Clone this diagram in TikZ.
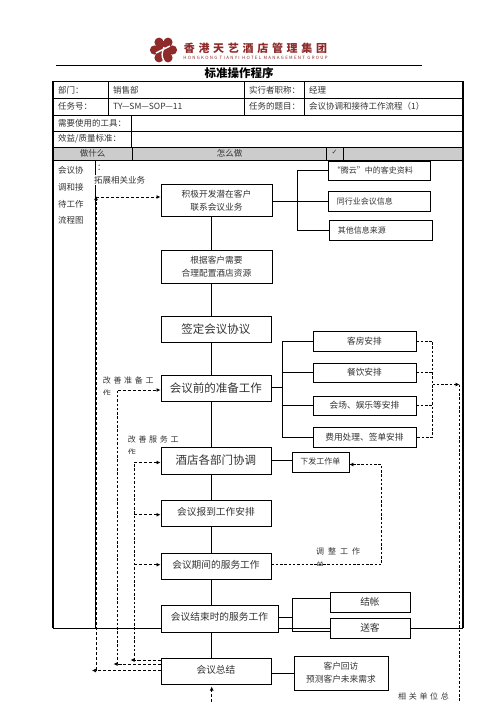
\documentclass[tikz,border=0pt]{standalone}
\usepackage{fontspec}
\setmainfont{Noto Sans CJK SC}
\usetikzlibrary{arrows.meta}
\definecolor{logored}{HTML}{8E2A2A}
\definecolor{txt}{HTML}{333333}
\tikzset{
  x=1pt,y=-1pt,
  boxn/.style={draw=black,line width=0.9pt,fill=white,inner sep=0pt,text=txt,align=center},
  fbig/.style={font=\fontsize{11.5}{14}\selectfont},
  fmid/.style={font=\fontsize{9.7}{14}\selectfont},
  fsm/.style={font=\fontsize{8.7}{13}\selectfont},
  fside/.style={font=\fontsize{8.7}{10}\selectfont},
  ln/.style={draw=black,line width=0.8pt},
  dashln/.style={draw=black,line width=0.7pt,dash pattern=on 2.5pt off 1.8pt},
  bolddash/.style={draw=black,line width=1pt,dash pattern=on 3pt off 2pt},
  tip/.style={-{Latex[length=4pt,width=4pt]}},
  cell/.style={anchor=west,text=txt,inner sep=0pt,font=\fontsize{8.5}{10}\selectfont},
  lab/.style={anchor=west,text=txt,inner sep=0pt,font=\fontsize{8}{10}\selectfont},
  hd/.style={inner sep=0pt,text=txt,font=\fontsize{8.5}{10}\selectfont},
}
\newcommand{\off}[3]{\hspace*{#1pt}\raisebox{#2pt}{#3}}
\newcommand{\bx}[7]{\node[boxn,#6,minimum width=#3pt-#1pt,minimum height=#4pt-#2pt,anchor=north west] (#5) at (#1,#2) {#7};}
\newcommand{\lk}{\hspace{3.7pt}}
\begin{document}
\begin{tikzpicture}
\useasboundingbox (0,0) rectangle (496,702);
% logo
\fill[logored] (163.5,50) circle (9pt);
\foreach \a in {0,60,...,300}{\fill[logored] (163.5,50)++(\a:9pt) circle (4.6pt);}
\draw[white,line width=1.4pt] (156,53) -- (170,46);
\draw[white,line width=1.4pt] (164,47) .. controls (162,53) and (161,56) .. (164,61);
\node[inner sep=0pt,text=logored,font=\bfseries\fontsize{11}{12}\selectfont] (logotext) at (255.5,48) {香\lk 港\lk 天\lk 艺\lk 酒\lk 店\lk 管\lk 理\lk 集\lk 团};
\node[inner sep=0pt,text=logored,font=\fontsize{4.4}{5}\selectfont\addfontfeature{LetterSpace=30}] (logosub) at (255.5,57.5) {HONGKONG TIANYI HOTEL MANAGEMENT GROUP};
\coordinate (ruleL) at (56,65);
\coordinate (ruleR) at (422,65);
\draw[ln] (ruleL) -- (ruleR);
\node[inner sep=0pt,font=\bfseries\fontsize{11.5}{12}\selectfont] (title) at (239,73) {标准操作程序};
% table
\fill[black!20] (53,147) rectangle (463,160.5);
\draw[ln] (53,98.5) -- (463,98.5) (53,115.5) -- (463,115.5) (53,131.5) -- (463,131.5) (53,147) -- (463,147) (53,160.5) -- (463,160.5);
\draw[ln] (108.5,81.5) -- (108.5,115.5) (244.5,81.5) -- (244.5,115.5) (304.5,81.5) -- (304.5,115.5);
\draw[ln] (131.5,115.5) -- (131.5,147) (132.5,147) -- (132.5,160.5) (326.5,147) -- (326.5,160.5) (343,147) -- (343,160.5);
\draw[ln] (95.5,160.5) -- (95.5,628);
\draw[ln] (53,628) -- (463,628);
\draw[draw=black,line width=1.4pt] (53,628) -- (53,81.5) -- (463,81.5) -- (463,628);
\node[cell] (c1) at (58,90) {部门：};
\node[cell] (c2) at (113,90) {销售部};
\node[cell] (c3) at (249,90) {实行者职称：};
\node[cell] (c4) at (309,90) {经理};
\node[cell] (c5) at (58,106.5) {任务号：};
\node[cell] (c6) at (113,106.5) {TY—SM—SOP—11};
\node[cell] (c7) at (249,106.5) {任务的题目：};
\node[cell] (c8) at (309,106.5) {会议协调和接待工作流程（1）};
\node[cell] (c9) at (58,123) {需要使用的工具：};
\node[cell] (c10) at (58,139) {效益/质量标准：};
\node[hd] (h1) at (92.5,153) {做什么};
\node[hd] (h2) at (229.5,153) {怎么做};
\node[hd,font={\fontspec{DejaVu Sans}\fontsize{7}{8}\selectfont}] (h3) at (334.5,152) {✓};
\node[cell] (w1) at (58,170) {会议协};
\node[cell] (w2) at (58,187) {调和接};
\node[cell] (w3) at (58,204) {待工作};
\node[cell] (w4) at (58,220) {流程图};
\node[cell] (colon) at (97,168) {：};
\node[cell,fill=white,inner ysep=1pt] (tuozhan) at (94,180) {拓展相关业务};
% main boxes
\bx{160.5}{183.5}{271.5}{216}{b1}{fsm}{积极开发潜在客户\\联系会议业务}
\bx{160.5}{249.5}{271.5}{282.5}{b2}{fsm}{根据客户需要\\合理配置酒店资源}
\bx{160.5}{315.5}{270.5}{341.5}{b3}{fbig}{\off{0}{-2}{签定会议协议}}
\bx{160.5}{374.5}{270.5}{400.5}{b4}{fbig}{\off{0}{-3}{会议前的准备工作}}
\bx{160.5}{446.5}{270.5}{473.5}{b5}{fbig}{\off{0}{-2}{酒店各部门协调}}
\bx{160.5}{499.5}{270.5}{525.5}{b6}{fmid}{\off{0}{4}{会议报到工作安排}}
\bx{160.5}{552.5}{270.5}{578.5}{b7}{fmid}{\off{0}{4}{会议期间的服务工作}}
\bx{160.5}{604.5}{277.5}{631.5}{b8}{fmid}{\off{0}{4}{会议结束时的服务工作}}
\bx{160.5}{657.5}{270.5}{683.5}{b9}{fmid}{\off{0}{4}{会议总结}}
\coordinate (trunk) at (211.7,0);
\foreach \p/\q in {b1/b2,b2/b3,b3/b4,b4/b5,b5/b6,b6/b7,b7/b8,b8/b9}
  \draw[ln] (\p.south -| trunk) -- (\q.north -| trunk);
% top right
\bx{327.5}{160.5}{429.5}{179.5}{t1}{lab,anchor=north west}{\off{-12}{0}{“腾云”中的客史资料}}
\bx{327.5}{190.5}{429.5}{210.5}{t2}{lab,anchor=north west}{\off{-28}{0}{同行业会议信息}}
\bx{328.5}{219.5}{431.5}{239.5}{t3}{lab,anchor=north west}{\off{-37}{0}{其他信息来源}}
\coordinate (tbus) at (297.5,0);
\draw[ln] (b1.east |- t2.west) -- (t2.west);
\draw[ln] (t1.west) -- (t1.west -| tbus) -- (t3.west -| tbus) -- (t3.west);
% mid right
\bx{312.5}{330.5}{415.5}{350.5}{r1}{fside}{\off{0}{1}{客房安排}}
\bx{312.5}{362.5}{415.5}{381.5}{r2}{fside}{\off{0}{0}{餐饮安排}}
\bx{312.5}{395.5}{415.5}{414.5}{r3}{fside}{会场、娱乐等安排}
\bx{312.5}{426.5}{415.5}{446.5}{r4}{fside}{费用处理、签单安排}
\coordinate (rbus) at (282.5,0);
\coordinate (rbr4) at (282.5,387);
\draw[ln] (b4.east |- rbr4) -- (rbr4);
\draw[ln] (r1.west) -- (r1.west -| rbus) -- (r4.west -| rbus) -- (r4.west);
\draw[ln] (r2.west -| rbus) -- (r2.west);
\draw[ln] (r3.west -| rbus) -- (r3.west);
\coordinate (dbus) at (432.5,0);
\draw[dashln] (r1.east) -- (r1.east -| dbus) -- (r4.east -| dbus) -- (r4.east);
\draw[dashln] (r2.east) -- (r2.east -| dbus);
\draw[dashln] (r3.east) -- (r3.east -| dbus);
\coordinate (rel) at (459.5,384.5);
\coordinate (relbot) at (459.5,702);
\draw[dashln,tip] (rel -| dbus) -- (rel);
\draw[dashln] (rel) -- (relbot);
% work order
\bx{291.5}{451.5}{348.5}{471.5}{wo}{lab,anchor=north west}{\off{0}{1}{下发工作单}}
\draw[ln] (b5.east) -- (b5.east -| wo.west);
\coordinate (adjc) at (381.5,564.5);
\coordinate (adjt) at (381.5,464.5);
\draw[dashln] (b7.east |- adjc) -- (adjc) -- (adjt) -- (wo.east |- adjt);
\draw[dashln,tip] (360,464.5) -- (wo.east |- adjt);
% closing children
\bx{329.5}{591.5}{409.5}{611.5}{k1}{fmid}{\off{0}{1}{结帐}}
\bx{329.5}{617.5}{409.5}{637.5}{k2}{fmid}{\off{0}{1}{送客}}
\coordinate (kbus) at (292.5,617);
\coordinate (ktop) at (292.5,598.5);
\coordinate (kbot) at (292.5,631.5);
\draw[ln] (b8.east |- kbus) -- (kbus);
\draw[ln] (k1.west |- ktop) -- (ktop) -- (kbot) -- (k2.west |- kbot);
% summary child
\bx{293.5}{655.5}{387.5}{689.5}{s1}{fsm}{客户回访\\预测客户未来需求}
\draw[ln] (b9.east |- s1.west) -- (s1.west);
% improvement loops
\coordinate (lp1) at (96,197);
\coordinate (lp1b) at (96,670.5);
\coordinate (lp2) at (117.7,390);
\coordinate (lp2b) at (117.7,664);
\coordinate (lp3) at (134.3,462.5);
\coordinate (lp3b) at (134.3,660);
\draw[bolddash] (b9.west |- lp1b) -- (lp1b) -- (lp1);
\draw[bolddash,tip] (96,205) -- (96,196);
\draw[bolddash,tip] (lp1) -- (b1.west |- lp1);
\draw[dashln,tip] (lp1b) -- +(-4,0);
\draw[dashln] (lp2b) -- (lp2);
\draw[bolddash] (b9.west |- lp2b) -- (lp2b);
\draw[bolddash,tip] (lp2) -- (b4.west |- lp2);
\draw[bolddash,tip] (122,664) -- (113.5,664);
\draw[dashln] (lp3b) -- (lp3);
\draw[bolddash] (b9.west |- lp3b) -- (lp3b);
\draw[bolddash,tip] (lp3) -- (b5.west |- lp3);
\coordinate (lp3c) at (134.3,514.7);
\coordinate (lp3d) at (134.3,564.7);
\draw[bolddash,tip] (lp3c) -- (b6.west |- lp3c);
\draw[bolddash,tip] (lp3d) -- (b7.west |- lp3d);
\draw[bolddash,tip] (140,660) -- (130.5,660);
\coordinate (sumin) at (211.7,702);
\coordinate (sumtip) at (211.7,686.5);
\draw[bolddash,tip] (sumin) -- (sumtip);
% wrapped labels
\node[lab] (l1) at (102.7,380) {改\,\,善\,\,准\,\,备\,\,工};
\begin{scope}
\clip (100,388) rectangle (116,394);
\node[lab] (l1b) at (102.7,393) {作};
\end{scope}
\node[lab] (l2) at (127.7,439.5) {改\,\,善\,\,服\,\,务\,\,工};
\begin{scope}
\clip (125,447.5) rectangle (145,453.5);
\node[lab] (l2b) at (127.7,452.5) {作};
\end{scope}
\node[lab] (l3) at (316,551) {调\,\,\,整\,\,\,工\,\,\,作};
\begin{scope}
\clip (314,560) rectangle (332,565);
\node[lab] (l3b) at (316,565) {单};
\end{scope}
\node[lab] (l4) at (398,696) {相\,\,关\,\,单\,\,位\,\,总};
\end{tikzpicture}
\end{document}
